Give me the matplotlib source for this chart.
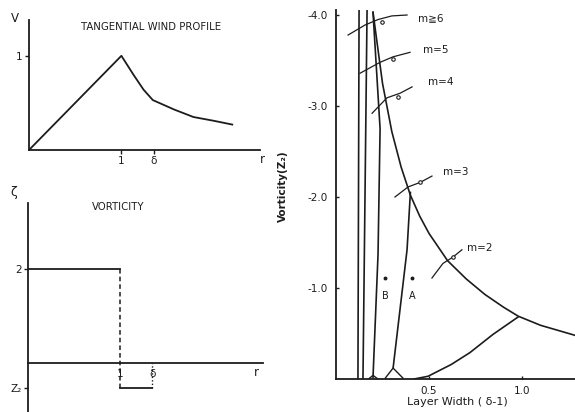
import matplotlib
matplotlib.use("Agg")
import matplotlib.pyplot as plt

# SETUP #########################################

W, H = 575, 412  # output size in pixels (dpi 100)
INK = "#1c1c1c"
plt.rcParams.update({"font.family": ["DejaVu Sans", "Noto Sans CJK JP"], "font.size": 7.5})

# DATA ##########################################

# tangential wind profile (top left)
r_wind = [0.0, 1.0, 1.13, 1.24, 1.34, 1.57, 1.78, 2.0, 2.2]
v_wind = [0.0, 1.0, 0.80, 0.64, 0.53, 0.43, 0.35, 0.31, 0.27]
delta = 1.35

# vorticity profile (bottom left)
r_core = [0.0, 1.0]
zeta_core = [2.0, 2.0]
z2 = -0.53

# stability diagram (right): outer envelope
env_x = [0.199, 0.25, 0.30, 0.35, 0.40, 0.45, 0.50, 0.60, 0.70, 0.80, 0.90, 0.98, 1.10, 1.285]
env_y = [-4.03, -3.25, -2.72, -2.33, -2.02, -1.79, -1.60, -1.30, -1.10, -0.93, -0.79, -0.69, -0.59, -0.48]

# near-vertical branches
b1_x, b1_y = [0.118, 0.124], [0.0, -4.05]
b2_x, b2_y = [0.145, 0.167], [0.0, -4.05]
b3_x, b3_y = [0.199, 0.226, 0.237, 0.199], [-0.02, -1.37, -2.75, -4.03]
b3_foot_x, b3_foot_y = [0.175, 0.199, 0.225], [0.0, -0.04, 0.0]

# m=3 branch and its foot
m3_x, m3_y = [0.40, 0.382, 0.307], [-2.05, -1.42, -0.12]
m3_foot_x, m3_foot_y = [0.265, 0.307, 0.36], [-0.01, -0.12, -0.01]

# m=2 lower branch
m2_x = [0.42, 0.495, 0.62, 0.72, 0.844, 0.978]
m2_y = [0.0, -0.03, -0.16, -0.29, -0.49, -0.68]

# leader arcs for the mode labels
leaders = {
    "m\u22676": ([0.065, 0.156, 0.226, 0.30, 0.382], [-3.78, -3.89, -3.95, -3.99, -4.0]),
    "m=5": ([0.129, 0.237, 0.306, 0.398], [-3.36, -3.48, -3.54, -3.59]),
    "m=4": ([0.194, 0.274, 0.344, 0.409], [-2.92, -3.09, -3.14, -3.21]),
    "m=3": ([0.317, 0.387, 0.452, 0.516], [-2.0, -2.11, -2.16, -2.23]),
    "m=2": ([0.516, 0.575, 0.629, 0.677], [-1.11, -1.27, -1.34, -1.42]),
}
leader_marks_x = [0.247, 0.306, 0.333, 0.452, 0.629]
leader_marks_y = [-3.92, -3.52, -3.10, -2.16, -1.34]
label_x = [0.44, 0.468, 0.495, 0.575, 0.704]
label_y = [-3.97, -3.62, -3.26, -2.27, -1.44]

# sample points
pts_x = [0.263, 0.409]
pts_y = [-1.11, -1.11]
pts_names = ["B", "A"]


def px_box(left, top, right, bottom):
    return [left / W, 1 - bottom / H, (right - left) / W, (bottom - top) / H]


def clean(ax):
    ax.spines["top"].set_visible(False)
    ax.spines["right"].set_visible(False)
    for s in ("left", "bottom"):
        ax.spines[s].set_color(INK)
        ax.spines[s].set_linewidth(1.3)
    ax.tick_params(colors=INK, width=1.0)


# FIGURE ########################################

fig = plt.figure(figsize=(W / 100, H / 100), dpi=100)

# TOP LEFT: tangential wind ##################
ax1 = fig.add_axes(px_box(29, 20, 260, 150))
clean(ax1)
ax1.plot(r_wind, v_wind, color=INK, lw=1.3)
ax1.set_xlim(0, 2.5)
ax1.set_ylim(0, 1.38)
ax1.set_xticks([1, delta], ["1", "\u03b4"])
ax1.set_yticks([1], ["1"])
ax1.tick_params(length=3, pad=1.5, labelsize=7.5)
ax1.text(0.53, 0.95, "TANGENTIAL WIND PROFILE", transform=ax1.transAxes,
         ha="center", va="center", fontsize=7.3, color=INK)
ax1.text(-0.06, 1.015, "V", transform=ax1.transAxes, ha="center", va="center",
         fontsize=8.5, color=INK)
ax1.text(1.01, -0.075, "r", transform=ax1.transAxes, ha="center", va="center",
         fontsize=8.5, color=INK)

# BOTTOM LEFT: vorticity #####################
ax2 = fig.add_axes(px_box(28, 203, 263, 412))
clean(ax2)
ax2.spines["bottom"].set_position(("data", 0))
ax2.plot(r_core, zeta_core, color=INK, lw=1.3)
ax2.plot([r_core[-1], r_core[-1]], [zeta_core[-1], z2], color=INK, lw=1.1, ls=(0, (3, 2)))
ax2.plot([r_core[-1], delta], [z2, z2], color=INK, lw=1.3)
ax2.plot([delta, delta], [z2, 0], color=INK, lw=1.0, ls=(0, (1, 1.5)))
ax2.set_xlim(0, 2.55)
ax2.set_ylim(-1.04, 3.40)
ax2.set_xticks([1, delta], ["1", "\u03b4"])
ax2.set_yticks([2, z2], ["2", "Z\u2082"])
ax2.tick_params(axis="x", length=0, pad=4, labelsize=7.5)
ax2.tick_params(axis="y", length=3, pad=1.5, labelsize=7.5)
ax2.text(0.383, 0.981, "VORTICITY", transform=ax2.transAxes, ha="center",
         va="center", fontsize=7.3, color=INK)
ax2.text(-0.06, 1.048, "\u03b6", transform=ax2.transAxes, ha="center",
         va="center", fontsize=9, color=INK)
ax2.text(0.97, 0.19, "r", transform=ax2.transAxes, ha="center", va="center",
         fontsize=8.5, color=INK)

# RIGHT: stability diagram ###################
ax3 = fig.add_axes(px_box(336, 10, 575, 379))
clean(ax3)
ax3.set_xlim(0, 1.285)
ax3.set_ylim(0, -4.055)

lw = 1.2
ax3.plot(env_x, env_y, color=INK, lw=lw)
ax3.plot(b1_x, b1_y, color=INK, lw=lw)
ax3.plot(b2_x, b2_y, color=INK, lw=lw)
ax3.plot(b3_x, b3_y, color=INK, lw=lw)
ax3.plot(b3_foot_x, b3_foot_y, color=INK, lw=1.0)
ax3.plot(m3_x, m3_y, color=INK, lw=lw)
ax3.plot(m3_foot_x, m3_foot_y, color=INK, lw=1.0)
ax3.plot(m2_x, m2_y, color=INK, lw=lw)

for (name, (lx, ly)), tx, ty in zip(leaders.items(), label_x, label_y):
    ax3.plot(lx, ly, color=INK, lw=0.9)
    ax3.text(tx, ty, name, ha="left", va="center", fontsize=7.5, color=INK)
ax3.plot(leader_marks_x, leader_marks_y, ls="none", marker="o", ms=2.5,
         mfc="white", mec=INK, mew=0.8)

ax3.plot(pts_x, pts_y, ls="none", marker="o", ms=1.8, color=INK)
for x, y, name in zip(pts_x, pts_y, pts_names):
    ax3.text(x, y + 0.2, name, ha="center", va="center", fontsize=7, color=INK)

ax3.set_xticks([0.5, 1.0], ["0.5", "1.0"])
ax3.set_yticks([-1, -2, -3, -4], ["-1.0", "-2.0", "-3.0", "-4.0"])
ax3.tick_params(direction="in", length=2, labelsize=7.5)
ax3.tick_params(axis="y", pad=6)
ax3.tick_params(axis="x", pad=5)
ax3.set_xlabel("Layer Width ( \u03b4-1)", fontsize=8, color=INK)
ax3.xaxis.set_label_coords(0.506, -0.05)
ax3.set_ylabel("Vorticity(Z\u2082)", fontsize=7.5, color=INK, fontweight="bold")
ax3.yaxis.set_label_coords(-0.2, 0.523)

# EXPORT #########################################

fig.savefig("out.png", dpi=100)
